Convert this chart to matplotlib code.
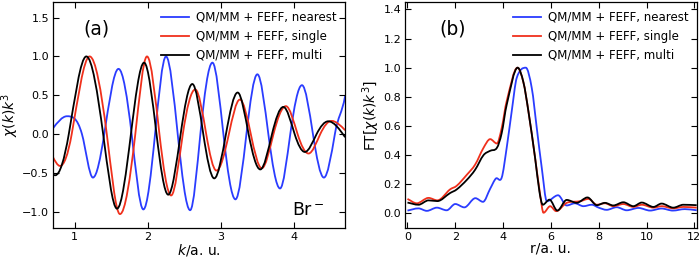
import numpy as np
import matplotlib
matplotlib.use('Agg')
import matplotlib.pyplot as plt
from matplotlib.path import Path
from matplotlib.patches import PathPatch
from matplotlib.lines import Line2D

# %% datos leidos de la figura
# panel (a): chi(k) k^3  (extremos y cruces por cero)
k_near = [0.70, 0.895, 1.10, 1.25, 1.405, 1.60, 1.78, 1.94, 2.10, 2.25, 2.41, 2.58, 2.72,
          2.885, 3.035, 3.20, 3.35, 3.50, 3.65, 3.81, 3.95, 4.11, 4.26, 4.41, 4.56, 4.70]
chi_near = [0.07, 0.23, 0.0, -0.56, 0.0, 0.84, 0.0, -0.97, 0.0, 1.00, 0.0, -0.98, 0.0,
            0.92, 0.0, -0.84, 0.0, 0.77, 0.0, -0.70, 0.0, 0.63, 0.0, -0.56, 0.0, 0.49]

k_single = [0.70, 0.80, 0.96, 1.205, 1.44, 1.62, 1.83, 1.99, 2.16, 2.32, 2.48, 2.65, 2.80,
            2.94, 3.11, 3.26, 3.41, 3.56, 3.72, 3.89, 4.05, 4.20, 4.36, 4.515, 4.70]
chi_single = [-0.29, -0.41, 0.0, 1.00, 0.0, -1.03, 0.0, 1.00, 0.0, -0.79, 0.0, 0.575, 0.0,
              -0.47, 0.0, 0.445, 0.0, -0.44, 0.0, 0.36, 0.0, -0.25, 0.0, 0.17, 0.05]

k_multi = [0.70, 0.735, 0.92, 1.16, 1.39, 1.58, 1.77, 1.95, 2.12, 2.28, 2.45, 2.61, 2.76,
           2.91, 3.07, 3.23, 3.38, 3.54, 3.70, 3.855, 4.01, 4.15, 4.31, 4.47, 4.70]
chi_multi = [-0.52, -0.53, 0.0, 1.00, 0.0, -0.96, 0.0, 0.92, 0.0, -0.78, 0.0, 0.645, 0.0,
             -0.57, 0.0, 0.535, 0.0, -0.455, 0.0, 0.35, 0.0, -0.23, 0.0, 0.165, -0.04]

# panel (b): FT[chi(k) k^3]
r_near = [0.0, 0.46, 0.81, 1.23, 1.64, 2.0, 2.38, 2.84, 3.16, 3.46, 3.70, 3.94, 4.15, 4.36,
          4.57, 4.95, 5.2, 5.41, 5.62, 5.83, 6.30, 6.66, 7.0, 7.36, 7.71, 8.0, 8.33, 8.75,
          9.17, 9.66, 10.15, 10.63, 11.1, 11.6, 12.1]
ft_near = [0.02, 0.035, 0.018, 0.04, 0.022, 0.065, 0.042, 0.105, 0.08, 0.17, 0.24, 0.245,
           0.45, 0.70, 0.93, 1.00, 0.86, 0.585, 0.31, 0.084, 0.125, 0.055, 0.07, 0.05,
           0.06, 0.04, 0.025, 0.043, 0.022, 0.038, 0.02, 0.034, 0.02, 0.03, 0.022]

r_single = [0.0, 0.39, 0.88, 1.25, 1.78, 2.06, 2.48, 2.83, 3.18, 3.46, 3.74, 3.94, 4.15,
            4.60, 4.85, 5.06, 5.34, 5.55, 5.69, 5.97, 6.22, 6.66, 7.22, 7.57, 7.92, 8.26,
            8.61, 9.03, 9.45, 9.80, 10.29, 10.63, 11.12, 11.54, 12.1]
ft_single = [0.10, 0.07, 0.107, 0.09, 0.165, 0.19, 0.265, 0.335, 0.45, 0.51, 0.48, 0.585,
             0.77, 1.00, 0.90, 0.70, 0.38, 0.13, 0.005, 0.05, 0.016, 0.073, 0.084, 0.10,
             0.06, 0.07, 0.05, 0.065, 0.045, 0.06, 0.04, 0.05, 0.035, 0.045, 0.04]

r_multi = [0.0, 0.46, 0.88, 1.25, 1.78, 2.06, 2.48, 2.83, 3.18, 3.46, 3.74, 3.94, 4.15,
           4.61, 4.85, 5.06, 5.34, 5.52, 5.66, 5.94, 6.27, 6.66, 7.08, 7.53, 7.92, 8.26,
           8.61, 9.03, 9.45, 9.80, 10.29, 10.63, 11.12, 11.54, 12.1]
ft_multi = [0.075, 0.06, 0.09, 0.085, 0.14, 0.165, 0.23, 0.30, 0.40, 0.43, 0.45, 0.55,
            0.745, 1.00, 0.90, 0.70, 0.38, 0.15, 0.06, 0.095, 0.02, 0.093, 0.073, 0.11,
            0.057, 0.073, 0.055, 0.077, 0.05, 0.075, 0.045, 0.068, 0.04, 0.06, 0.057]

etiquetas = ['QM/MM + FEFF, nearest', 'QM/MM + FEFF, single', 'QM/MM + FEFF, multi']
colores = ['#2a3cff', '#f0301c', 'black']


def curva(ax, x, y, color, s=1.0, lw=1.3):
    # traza una curva suave (bezier) por los puntos leidos
    x = np.asarray(x, float)
    y = np.asarray(y, float)
    m = np.zeros_like(y)
    m[1:-1] = (y[2:] - y[:-2]) / (x[2:] - x[:-2])
    m[0] = (y[1] - y[0]) / (x[1] - x[0])
    m[-1] = (y[-1] - y[-2]) / (x[-1] - x[-2])
    m *= s
    # pendiente nula en los extremos locales
    ext = (y[1:-1] - y[:-2]) * (y[2:] - y[1:-1]) <= 0
    m[1:-1][ext] = 0.0
    verts = [(x[0], y[0])]
    codes = [Path.MOVETO]
    for i in range(len(x) - 1):
        h = x[i+1] - x[i]
        verts += [(x[i] + h/3, y[i] + m[i]*h/3),
                  (x[i+1] - h/3, y[i+1] - m[i+1]*h/3),
                  (x[i+1], y[i+1])]
        codes += [Path.CURVE4]*3
    ax.add_patch(PathPatch(Path(verts, codes), fill=False, edgecolor=color,
                           lw=lw, joinstyle='round', capstyle='butt'))


plt.rcParams['font.family'] = 'DejaVu Sans'
plt.rcParams['mathtext.fontset'] = 'dejavusans'
fig = plt.figure(figsize=(7.0, 2.58), dpi=100)
ax1 = fig.add_axes([0.0753, 0.116, 0.4177, 0.876])
ax2 = fig.add_axes([0.578, 0.116, 0.418, 0.876])

# %% panel (a)
curva(ax1, k_near, chi_near, colores[0], s=1.5)
curva(ax1, k_single, chi_single, colores[1], s=1.5)
curva(ax1, k_multi, chi_multi, colores[2], s=1.5)
ax1.set_xlim(0.7, 4.7)
ax1.set_ylim(-1.21, 1.70)
ax1.set_xticks([1, 2, 3, 4])
ax1.set_yticks([-1.0, -0.5, 0.0, 0.5, 1.0, 1.5])
ax1.set_xlabel(r'$k$/a. u.', fontsize=10, labelpad=0)
ax1.set_ylabel(r'$\chi(k)k^3$', fontsize=10, labelpad=1)
ax1.text(0.105, 0.855, '(a)', transform=ax1.transAxes, fontsize=13.5)
ax1.text(0.82, 0.06, r'Br$^-$', transform=ax1.transAxes, fontsize=12.5)

# %% panel (b)
curva(ax2, r_near, ft_near, colores[0])
curva(ax2, r_single, ft_single, colores[1])
curva(ax2, r_multi, ft_multi, colores[2])
ax2.set_xlim(-0.12, 12.12)
ax2.set_ylim(-0.1, 1.45)
ax2.set_xticks([0, 2, 4, 6, 8, 10, 12])
ax2.set_yticks([0.0, 0.2, 0.4, 0.6, 0.8, 1.0, 1.2, 1.4])
ax2.set_xlabel('r/a. u.', fontsize=10, labelpad=0)
ax2.set_ylabel(r'FT$[\chi(k)k^3]$', fontsize=10, labelpad=1)
ax2.text(0.12, 0.855, '(b)', transform=ax2.transAxes, fontsize=13.5)

manejadores = [Line2D([], [], color=c, lw=1.3) for c in colores]
for ax in (ax1, ax2):
    ax.legend(manejadores, etiquetas, loc='upper right', frameon=False, fontsize=8.5,
              handlelength=2.3, labelspacing=0.5, handletextpad=0.6,
              borderaxespad=0.35)
    ax.tick_params(which='both', direction='in', top=True, right=True,
                   length=4, width=0.8, labelsize=8, pad=2.5)
    for sp in ax.spines.values():
        sp.set_linewidth(0.9)

fig.savefig('out.png', dpi=100)
